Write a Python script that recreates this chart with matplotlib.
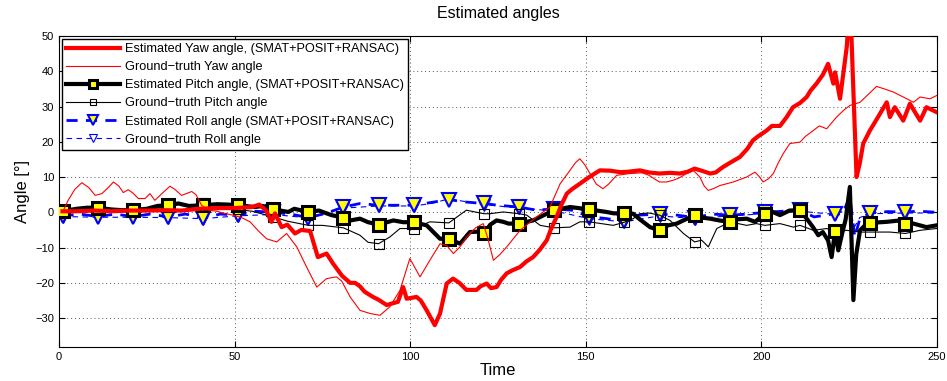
import numpy as np
import matplotlib
matplotlib.use('Agg')
import matplotlib.pyplot as plt

# Estimated yaw (SMAT+POSIT+RANSAC)
t_yaw_est = [1, 5, 10, 15, 20, 25, 30, 35, 40, 45, 50, 55, 57, 59, 60.5, 61.5, 63.4, 65, 67.2, 69,
             71.5, 73.7, 76.2, 78, 80.6, 82.9, 84.3, 85.7, 87, 89.4, 91, 93.3, 95, 96.5, 98, 99,
             101.8, 103, 104.7, 107, 108.5, 110.4, 112.2, 114, 116, 118.9, 120, 121.8, 123, 124.6,
             126, 127.5, 129, 131.3, 133, 135, 137, 138.9, 140, 141.7, 143, 144.6, 146, 148.3, 151,
             154, 157, 159.7, 162, 165.4, 168, 171, 174, 176.8, 179, 181, 183, 185.4, 187, 189, 191,
             193.9, 196, 197.6, 199, 201.5, 203, 205.3, 207.2, 209, 211, 212.9, 214, 215.7, 217.5,
             219, 220.5, 221, 222.4, 224.3, 225.3, 226, 227.1, 228, 229, 230.9, 232, 233.8, 235.7,
             236.6, 238, 240.4, 242.3, 245.2, 247, 249.9]
yaw_est = [0.3, 0.3, 0.5, 0.3, 0.5, 0.5, 0.6, 0.5, 1.0, 1.2, 1.2, 1.5, 2.2, 0.5, -2.7, -0.3, -4.2, -3.5, -6, -5,
           -5.3, -12.7, -11.7, -14.5, -18, -20, -20, -21, -22.5, -24, -24.8, -26.3, -25.8, -25.4, -21.2, -24.5,
           -24, -25, -27.8, -32, -28.7, -20.2, -18.8, -20, -22, -22, -21, -20.2, -21.5, -21.2,
           -19, -17.3, -16.5, -15.5, -14, -12.7, -10.5, -7.9, -5, -1.3, 2, 5.3, 6.5, 8.1, 10,
           11.9, 11.8, 11.4, 11.5, 11.9, 11.3, 11, 11.2, 11, 11.5, 12.4, 11.8, 11, 11.3, 12.8, 14,
           15.7, 18, 20.4, 21.5, 23.2, 24.5, 24.5, 27, 29.8, 31, 32.7, 34.5, 36.5, 39,
           42.1, 36.5, 39.7, 32.2, 46.8, 60, 40, 10, 13.8, 19.5, 23.2, 25, 28, 31.2,
           27, 29.8, 26, 30.8, 26, 29.8, 28.4]

# Ground-truth yaw
t_yaw_gt = [1, 2.6, 4.5, 6.5, 8.5, 10.3, 12.2, 14, 15.5, 17, 18.3, 19.7, 21, 22.6, 24.5, 25.9, 27.3, 29.5,
            31.6, 33, 34.9, 37.8, 39, 40.6, 42.5, 45, 47, 49.6, 52, 54.4, 57, 59.1, 62, 64.8, 67.7, 70.5,
            73.4, 76.2, 79, 80.5, 82.9, 85.7, 88.6, 91.4, 94.2, 97.1, 99.9, 102.8, 105.6, 108.5, 110.5,
            112.3, 114, 116.1, 118.5, 120.8, 122, 123.7, 125.5, 127.5, 131.3, 136, 139.8, 142.7, 145.5,
            147, 148.3, 149.7, 151.2, 153, 154.9, 156.5, 158.8, 162.6, 166, 168, 169.5, 171, 173, 174.9,
            176.5, 178.7, 180.6, 182.5, 183.7, 184.9, 186.5, 188.2, 192, 195.8, 198.2, 199.5, 200.5, 202,
            203.4, 204.8, 206.2, 208.1, 211, 212.5, 214.8, 216.5, 218.6, 221.4, 223.5, 225.2, 228.1,
            230.5, 232.8, 235, 237.6, 241.4, 243.3, 245.2, 248, 249.9]
yaw_gt = [0, 3.4, 6.5, 8.4, 7, 4.8, 5.3, 7, 8.6, 7.5, 5.6, 6.4, 5.5, 3.9, 3.9, 5.3, 3.4, 5.5,
          7.4, 6.5, 4.8, 5.9, 5, 2, 0.6, 0.3, -0.3, -0.8, -1.5, -2.7, -5.5, -7.5, -8.4, -6, -9.8, -15.5,
          -21.2, -18.8, -18.3, -19.5, -24, -27.8, -28.7, -29.2, -26.8, -22.1, -13.1, -18.3, -13.6, -8.9, -9.5,
          -11.7, -10, -7, -4.5, -3.2, -7, -13.6, -12, -9.8, -5.1, -1.3, 1.5, 8.1, 11.9,
          14, 15.2, 13.5, 11, 8, 6.7, 8, 10.5, 11, 11.2, 10.5, 9.5, 8.6, 8.6, 9.1,
          9.7, 11, 11.9, 10, 7.5, 6.2, 6.8, 7.6, 8.6, 10, 11.4, 10, 8.6, 9.5,
          11, 14, 16.6, 19.5, 19.9, 21.5, 23.2, 24.5, 23.7, 27, 29, 30.3, 31.2,
          33.5, 35.7, 35, 34.1, 32.2, 31.2, 32.7, 32.2, 33.1]

# Estimated pitch (SMAT+POSIT+RANSAC)
t_pitch_est = [1, 5, 8, 11, 15, 18, 21, 25, 28, 31, 34, 37, 41, 45, 48, 51, 55.8, 58, 61, 63, 65.3, 67,
               71, 74, 77.6, 81, 83, 85.7, 88, 91, 95.2, 98, 101, 104.7, 106.5, 108.5, 111, 114.2, 117,
               119, 121, 122.8, 124.6, 126.5, 128, 131, 135, 138.9, 141, 145.5, 148, 151, 155.9, 158,
               161, 163.5, 165.4, 168.3, 171, 173, 175.9, 177.8, 181, 183, 185.4, 188, 191, 193, 195.8,
               198.2, 201, 203, 205.3, 208, 211, 212.9, 214.7, 216.2, 217.5, 219, 220, 221, 221.9, 223,
               224, 225.2, 226.2, 227, 228.1, 230, 231, 235.7, 239.5, 241, 243.3, 247, 249.9]
pitch_est = [0.3, 1.0, 1.3, 1.3, 0.8, 0.6, 0.6, 1.0, 1.8, 2.0, 2.5, 1.8, 2.0, 2.3, 2.2, 2.0, 1.5, 1.8, 0.8, 0.5, 0.1, 1.0,
             0.1, 0.5, -0.8, -1.5, -2.3, -1.8, -2.8, -3.5, -2.3, -2.8, -2.8, -3.7, -5.5, -7.5, -7.5, -8.9, -5.6,
             -5.5, -6, -3.5, -2.3, -2.7, -3.2, -3.2, -2.3, -0.4, 0.6, 1.5, 1.2, 0.8, 0.1, -0.3,
             -0.2, -0.4, -2.0, -4.2, -5.1, -3.8, -3.2, -2.3, -0.8, -1.5, -1.8, -2.3, -2.7, -2.0, -1.8,
             -2.7, -0.4, 0.2, -0.8, 0.5, 0.6, -1.8, -4.2, -6.5, -5.6, -8, -12.7, -5.3, -10.8, -6,
             -2, 7.2, -24.9, -12, -5.1, -3.2, -3.0, -2.7, -2.3, -3.2, -3.2, -4.2, -3.7]

# Ground-truth pitch
t_pitch_gt = [1, 5, 11, 15, 21, 25, 31, 34, 37, 41, 45, 51, 55, 58, 61, 65, 71, 75, 81, 85.7, 88, 91, 94.2,
              97.1, 101, 105.6, 111, 116, 121, 122.7, 126.5, 131, 133.2, 137, 141, 145.5, 148.3, 151, 157.8,
              161, 163.5, 165.4, 168, 171, 174, 177.8, 181, 183, 184.9, 187.3, 190.1, 191, 195.8, 198.6,
              201, 205.3, 209.1, 211, 214.8, 218.6, 221, 224.3, 228, 231, 236.6, 241, 245.2, 249.9]
pitch_gt = [0, 0.8, 1.0, 0.5, 0.3, 0.8, 1.5, 2.5, 2.0, 2.5, 1.8, 0.8, 0.3, -0.5, -1.3, -2.5, -3.7, -3.7, -4.4, -6.5, -8.5, -8.9, -7,
            -4.6, -4.6, -2.7, -3.0, 0.6, -0.4, -0.4, 0.1, -0.4, -0.8, -3.7, -4.4, -4.2, -2.7, -2.7, -3.7,
            -2.8, -1.8, -0.4, -0.2, -0.8, -2.3, -6, -8.4, -7.9, -9.8, -4.6, -3.2, -2.7, -3.7, -3.2,
            -3.7, -3.2, -4.2, -3.7, -5.1, -4.6, -5.6, -5.1, -5.6, -5.6, -5.6, -6, -5.1, -4.6]

# Estimated roll (SMAT+POSIT+RANSAC)
t_roll_est = [1, 6, 11, 16, 21, 26, 31, 36, 41, 46, 51, 56, 61, 66, 71, 76, 81, 85.7, 91, 95, 101, 106, 111,
              116, 121, 125, 131, 136, 141, 146, 151, 156, 161, 165, 171, 176, 181, 186, 191, 196, 201, 206,
              211, 215, 221, 223, 225.2, 226.6, 228, 231, 236, 241, 245, 250]
roll_est = [-1, -0.5, -1.2, -0.5, -1.2, -0.5, -1.3, -0.5, -1.5, -0.5, -0.8, 0.3, 0, -0.5, -1.5, -0.3, 1.5, 2.5, 2.0, 2.0, 2.0, 2.8, 3.6,
            2.9, 2.5, 2.0, 1.5, 0.6, 1.0, 0.6, -1.2, -1.8, -2.5, -0.8, -0.5, -0.8, -1.5, -0.5, -0.8, -0.5, 0, 0.3,
            0.6, -1.3, -0.4, -0.5, 4.3, -7, -2, -0.2, 0.2, 0.1, 0.3, 0]

# Ground-truth roll
t_roll_gt = [1, 11, 21, 31, 41, 51, 61, 71, 81, 91, 101, 106, 111, 121, 131, 141, 151, 161, 171, 181, 191,
             201, 211, 221, 225, 226.6, 228, 231, 241, 250]
roll_gt = [-1.2, -1.4, -1.4, -1.5, -1.8, -1.0, -0.6, -1.6, 1.2, 1.8, 1.8, 2.5, 3.8, 2.2, 1.2, 0.4, -1.8, -2.7, -1.0, -1.8, -1.0,
           -0.4, 0.3, -0.6, 1.0, -4, -1.5, -0.4, -0.2, -0.2]

labels = ['Estimated Yaw angle, (SMAT+POSIT+RANSAC)', 'Ground\u2212truth Yaw angle',
          'Estimated Pitch angle, (SMAT+POSIT+RANSAC)', 'Ground\u2212truth Pitch angle',
          'Estimated Roll angle (SMAT+POSIT+RANSAC)', 'Ground\u2212truth Roll angle']


def marks(t):
    # markers sit on every 10th frame, starting at frame 1
    t = np.asarray(t)
    return list(np.where(np.isclose((t - 1) % 10, 0))[0])


plt.rcParams['font.family'] = ['Liberation Sans', 'DejaVu Sans']
fig = plt.figure(figsize=(9.47, 3.81), dpi=100)
ax = fig.add_axes([0.0623, 0.0892, 0.9271, 0.8163])

ax.plot(t_yaw_est, yaw_est, color='red', lw=3, zorder=6, label=labels[0])
ax.plot(t_yaw_gt, yaw_gt, color='red', lw=0.8, zorder=5, label=labels[1])
ax.plot(t_pitch_est, pitch_est, color='black', lw=3, marker='s', ms=8, mfc='yellow', mec='black',
        mew=2.2, markevery=marks(t_pitch_est), zorder=4, label=labels[2])
ax.plot(t_pitch_gt, pitch_gt, color='black', lw=0.8, marker='s', ms=7, mfc='none', mec='black',
        mew=0.8, markevery=marks(t_pitch_gt), zorder=3, label=labels[3])
ax.plot(t_roll_est, roll_est, color='blue', lw=2, ls=(0, (4, 3)), marker='v', ms=10, mfc='yellow',
        mec='blue', mew=1.5, markevery=marks(t_roll_est), zorder=2, label=labels[4])
ax.plot(t_roll_gt, roll_gt, color='blue', lw=0.8, ls=(0, (5, 4)), marker='v', ms=8, mfc='none',
        mec='blue', mew=0.8, markevery=marks(t_roll_gt), zorder=1, label=labels[5])

ax.set_xlim(0, 250)
ax.set_ylim(-38.2, 50)
ax.set_xticks(np.arange(0, 251, 50))
ax.set_yticks(np.arange(-30, 51, 10))
ax.grid(True, color='0.35', ls=(0, (1, 3)), lw=0.7)
ax.tick_params(direction='in', top=True, right=True, labelsize=8, length=4)
for s in ax.spines.values():
    s.set_linewidth(0.8)

ax.set_title('Estimated angles', fontsize=11.5, pad=13)
ax.set_xlabel('Time', fontsize=12, labelpad=1)
ax.set_ylabel('Angle [\u00b0]', fontsize=12, labelpad=4)

leg = ax.legend(loc='upper left', fontsize=9.2, handlelength=4.2, borderaxespad=0.25,
                labelspacing=0.48, handletextpad=0.4, borderpad=0.3, fancybox=False, framealpha=1,
                markerscale=0.7)
leg.get_frame().set_edgecolor('black')
leg.get_frame().set_linewidth(1.0)

fig.savefig('out.png', dpi=100)
